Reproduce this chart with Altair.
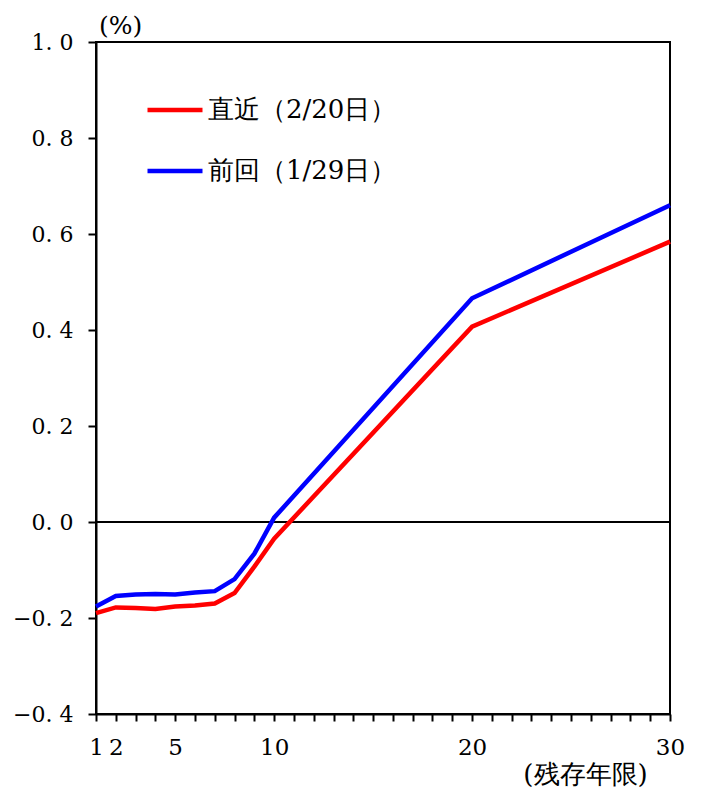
import altair as alt
import pandas as pd

years = [1, 2, 3, 4, 5, 6, 7, 8, 9, 10, 20, 30]
latest = [-0.190, -0.178, -0.179, -0.181, -0.176, -0.174, -0.170, -0.148, -0.093, -0.035, 0.407, 0.584]
previous = [-0.176, -0.154, -0.151, -0.150, -0.151, -0.147, -0.144, -0.119, -0.066, 0.009, 0.466, 0.660]
series_names = ["直近（2/20日）", "前回（1/29日）"]
series_colors = ["#ff0000", "#0000ff"]
x_ticks = list(range(1, 31))
x_labels = [1, 2, 5, 10, 20, 30]
y_ticks = [-0.4, -0.2, 0.0, 0.2, 0.4, 0.6, 0.8, 1.0]

rows = []
for i, yr in enumerate(years):
    rows.append({"year": yr, "value": latest[i], "series": series_names[0], "order": 0})
    rows.append({"year": yr, "value": previous[i], "series": series_names[1], "order": 1})
df = pd.DataFrame(rows)

FONT = "DejaVu Serif"
label_test = " || ".join(f"datum.value == {v}" for v in x_labels)

base = alt.Chart(df)

lines = base.mark_line(strokeWidth=4.5, strokeJoin="miter").encode(
    x=alt.X(
        "year:Q",
        scale=alt.Scale(domain=[1, 30], nice=False, zero=False),
        axis=alt.Axis(
            values=x_ticks,
            labelExpr=f"({label_test}) ? datum.label : ''",
            labelFontSize=23,
            labelOverlap=False,
            labelFlush=False,
            labelBound=False,
            title="(残存年限)",
            titleFontSize=26,
            titleX=489,
            titleY=68,
            titleAlign="center",
            titleBaseline="alphabetic",
            tickSize=7,
            labelPadding=15,
            grid=False,
        ),
    ),
    y=alt.Y(
        "value:Q",
        scale=alt.Scale(domain=[-0.4, 1.0], nice=False, zero=False),
        axis=alt.Axis(
            values=y_ticks,
            labelExpr="replace(format(datum.value, '.1f'), '.', '. ')",
            labelFontSize=22,
            labelOverlap=False,
            labelFlush=False,
            title="(%)",
            titleFontSize=25,
            titleAngle=0,
            titleX=24,
            titleY=-9,
            titleAlign="center",
            titleBaseline="alphabetic",
            tickSize=8,
            labelPadding=15,
            grid=False,
        ),
    ),
    color=alt.Color(
        "series:N",
        scale=alt.Scale(domain=series_names, range=series_colors),
        legend=alt.Legend(
            title=None,
            orient="none",
            legendX=49,
            legendY=38,
            symbolType="stroke",
            symbolSize=3025,
            symbolStrokeWidth=4.5,
            labelFontSize=26,
            labelFont=FONT,
            labelOffset=3,
            labelLimit=0,
            rowPadding=18,
            labelColor="#000000",
        ),
    ),
    order="order:Q",
    detail="series:N",
)

zero = alt.Chart(pd.DataFrame({"y": [0.0]})).mark_rule(color="black", strokeWidth=2).encode(
    y="y:Q"
)

chart = (
    alt.layer(zero, lines)
    .properties(
        width=574,
        height=672,
        autosize=alt.AutoSizeParams(type="none"),
        padding={"left": 88, "top": 34, "right": 24, "bottom": 76},
        background="white",
    )
    .configure_view(stroke="black", strokeWidth=2)
    .configure_axis(
        domainColor="black",
        domainWidth=2,
        tickColor="black",
        tickWidth=2,
        labelFont=FONT,
        labelColor="black",
        titleFont=FONT,
        titleFontWeight="normal",
        titleColor="black",
    )
)

chart.save("out.html", embed_options={"renderer": "svg", "actions": False})
